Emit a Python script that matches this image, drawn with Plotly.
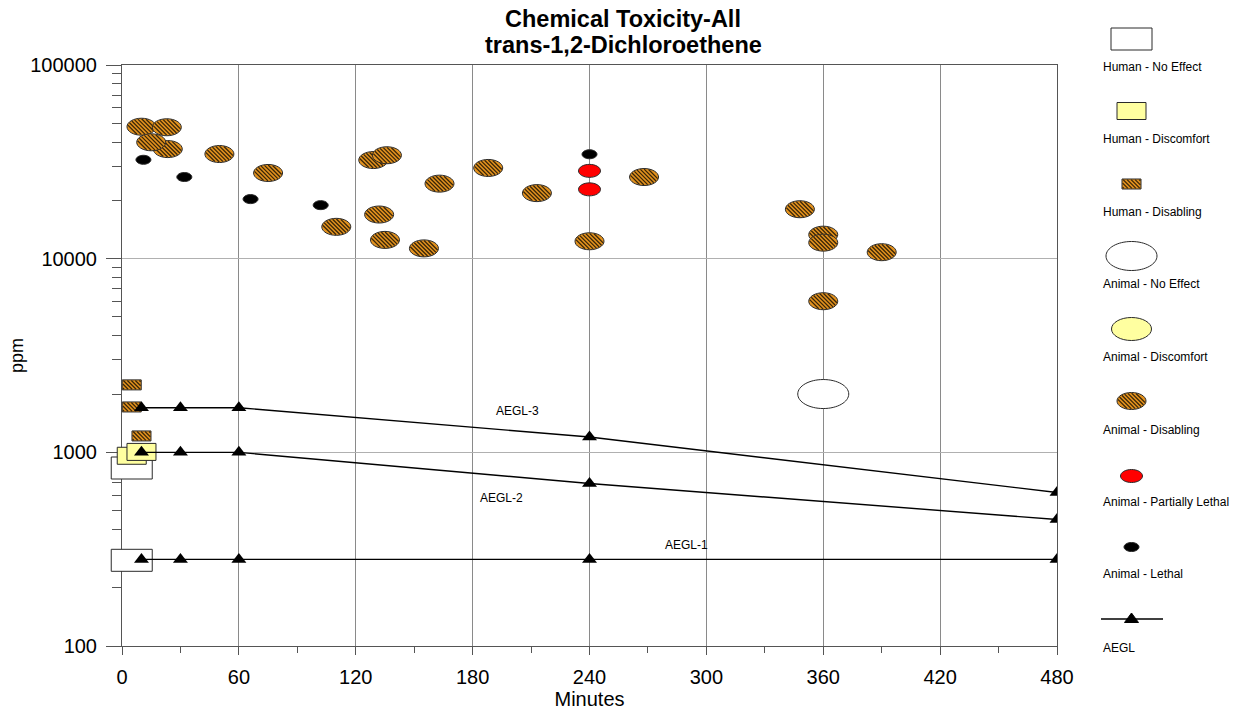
import numpy as np
import plotly.graph_objects as go

# ---------------- data ----------------
human_no_effect_x = [5, 5]
human_no_effect_y = [830, 277]
human_discomfort_x = [5, 10]
human_discomfort_y = [960, 1005]
human_disabling_x = [5, 5, 10]
human_disabling_y = [2230, 1715, 1215]
animal_no_effect_x = [360]
animal_no_effect_y = [2000]
animal_discomfort_x = []
animal_discomfort_y = []
animal_disabling_x = [10, 23, 23.5, 15, 50, 75, 110, 129, 136, 132, 135, 155, 163,
                      188, 213, 240, 268, 348, 360, 360, 390, 360]
animal_disabling_y = [48000, 47700, 36800, 39900, 34700, 27700, 14600, 32300, 34200,
                      16900, 12500, 11300, 24400, 29400, 21800, 12300, 26400, 18000,
                      13300, 12100, 10800, 6030]
animal_partial_x = [240, 240]
animal_partial_y = [28400, 22800]
animal_lethal_x = [11, 32, 66, 102, 240]
animal_lethal_y = [32400, 26400, 20300, 18900, 34600]

aegl_minutes = [10, 30, 60, 240, 480]
aegl_1 = [280, 280, 280, 280, 280]
aegl_2 = [1000, 1000, 1000, 690, 450]
aegl_3 = [1700, 1700, 1700, 1200, 620]
aegl_names = ["AEGL-1", "AEGL-2", "AEGL-3"]
aegl_label_x = [290, 195, 203]
aegl_label_y = [333, 583, 1640]

x_tick_vals = [0, 60, 120, 180, 240, 300, 360, 420, 480]
y_tick_vals = [100, 1000, 10000, 100000]
y_tick_text = ["100", "1000", "10000", "100000"]

legend_labels = ["Human - No Effect", "Human - Discomfort", "Human - Disabling",
                 "Animal - No Effect", "Animal - Discomfort", "Animal - Disabling",
                 "Animal - Partially Lethal", "Animal - Lethal", "AEGL"]

# ---------------- styles / layout constants ----------------
OFF = 0                      # page offset of the plotly div (body margin removed below)
W, H = 1240 - OFF, 715 - OFF
PAGE_AXIS_X = 122            # page pixel of the y axis (x = 0)
PAGE_RIGHT = 1057
PAGE_TOP = 65
PAGE_BOTTOM = 646
PAGE_EXT_LEFT = 90           # left edge of the unclipped data layer
ML = PAGE_EXT_LEFT - OFF
MR = W - (PAGE_RIGHT - OFF)
MT = PAGE_TOP - OFF
MB = H - (PAGE_BOTTOM - OFF)
PLOT_W = W - ML - MR
PLOT_H = H - MT - MB
X_MAX = 480
px_per_min = (PAGE_RIGHT - PAGE_AXIS_X) / X_MAX
x2_min = -(PAGE_AXIS_X - PAGE_EXT_LEFT) / px_per_min

FONT = "Liberation Sans, Arial, Helvetica, sans-serif"
HATCH_BASE = "#E3921E"
HATCH_LINE = "#3A2608"
OUTLINE = "#2a2a2a"

styles = {
    "Human - No Effect": ("rect", 41, 22, "#FFFFFF", False),
    "Human - Discomfort": ("rect", 29, 17, "#FFFFA0", False),
    "Human - Disabling": ("rect", 19, 10, HATCH_BASE, True),
    "Animal - No Effect": ("ellipse", 51, 29, "#FFFFFF", False),
    "Animal - Discomfort": ("ellipse", 40, 23, "#FFFFA0", False),
    "Animal - Disabling": ("ellipse", 29, 17, HATCH_BASE, True),
    "Animal - Partially Lethal": ("ellipse", 22, 13, "#FF0000", False),
    "Animal - Lethal": ("ellipse", 15, 9, "#000000", False),
}

series = [
    ("Human - No Effect", human_no_effect_x, human_no_effect_y),
    ("Human - Discomfort", human_discomfort_x, human_discomfort_y),
    ("Human - Disabling", human_disabling_x, human_disabling_y),
    ("Animal - No Effect", animal_no_effect_x, animal_no_effect_y),
    ("Animal - Discomfort", animal_discomfort_x, animal_discomfort_y),
    ("Animal - Disabling", animal_disabling_x, animal_disabling_y),
    ("Animal - Partially Lethal", animal_partial_x, animal_partial_y),
    ("Animal - Lethal", animal_lethal_x, animal_lethal_y),
]

K = 0.5522847


def ellipse_path(a, b):
    return (f"M{a:.2f},0C{a:.2f},{K*b:.2f} {K*a:.2f},{b:.2f} 0,{b:.2f}"
            f"C{-K*a:.2f},{b:.2f} {-a:.2f},{K*b:.2f} {-a:.2f},0"
            f"C{-a:.2f},{-K*b:.2f} {-K*a:.2f},{-b:.2f} 0,{-b:.2f}"
            f"C{K*a:.2f},{-b:.2f} {a:.2f},{-K*b:.2f} {a:.2f},0Z")


def rect_path(w, h):
    hw, hh = w / 2, h / 2
    return f"M{-hw:.2f},{-hh:.2f}L{hw:.2f},{-hh:.2f}L{hw:.2f},{hh:.2f}L{-hw:.2f},{hh:.2f}Z"


def hatch_ellipse(a, b, step=4.0):
    segs = []
    a2, b2 = a - 0.6, b - 0.6
    L = np.hypot(a2, b2)
    A = 1 / a2**2 + 1 / b2**2
    c = -np.floor(L / step) * step
    while c <= L:
        B = -2 * c / b2**2
        C = c**2 / b2**2 - 1
        disc = B * B - 4 * A * C
        if disc > 0:
            r = np.sqrt(disc)
            x1 = (-B - r) / (2 * A)
            x2 = (-B + r) / (2 * A)
            segs.append(f"M{x1:.2f},{c - x1:.2f}L{x2:.2f},{c - x2:.2f}")
        c += step
    return "".join(segs)


def hatch_rect(w, h, step=4.0):
    hw, hh = w / 2 - 0.6, h / 2 - 0.6
    segs = []
    c = -np.floor((hw + hh) / step) * step
    while c <= hw + hh:
        lo = max(-hw, c - hh)
        hi = min(hw, c + hh)
        if hi - lo > 0.3:
            segs.append(f"M{lo:.2f},{c - lo:.2f}L{hi:.2f},{c - hi:.2f}")
        c += step
    return "".join(segs)


def mark_shapes(style, x, y, xref, yref, layer):
    kind, w, h, fill, hatch = style
    outline = ellipse_path(w / 2, h / 2) if kind == "ellipse" else rect_path(w, h)
    common = dict(type="path", xref=xref, yref=yref, xsizemode="pixel", ysizemode="pixel",
                  xanchor=x, yanchor=y, layer=layer)
    out = [dict(path=outline, fillcolor=fill, line=dict(width=0), **common)]
    if hatch:
        p = hatch_ellipse(w / 2, h / 2) if kind == "ellipse" else hatch_rect(w, h)
        out.append(dict(path=p, line=dict(color=HATCH_LINE, width=1.3), **common))
    out.append(dict(path=outline, fillcolor="rgba(0,0,0,0)",
                    line=dict(color=OUTLINE, width=1), **common))
    return out


fig = go.Figure()
shapes = []

# invisible hover points on the visible axes (they also make the main axes draw)
for name, xs, ys in series:
    if xs:
        fig.add_trace(go.Scatter(x=xs, y=ys, mode="markers", name=name, xaxis="x", yaxis="y",
                                 marker=dict(size=14, opacity=0), showlegend=False,
                                 hovertemplate=name + "<br>%{x} min, %{y} ppm<extra></extra>"))

# data marks (drawn on the x2/y2 scale, identical to the visible axes but unclipped at x=0)
for name, xs, ys in series:
    for xv, yv in zip(xs, ys):
        shapes += mark_shapes(styles[name], xv, yv, "x2", "y2", "below")

for nm, vals in zip(aegl_names, [aegl_1, aegl_2, aegl_3]):
    fig.add_trace(go.Scatter(x=aegl_minutes, y=vals, mode="lines+markers", name=nm,
                             xaxis="x2", yaxis="y2", showlegend=False,
                             line=dict(color="#000000", width=1.4),
                             marker=dict(symbol="triangle-up", size=13, color="#000000")))

annotations = []
for nm, lx, ly in zip(aegl_names, aegl_label_x, aegl_label_y):
    annotations.append(dict(x=lx, y=np.log10(ly), xref="x2", yref="y2", text=nm,
                            showarrow=False, font=dict(size=12, color="#000000", family=FONT)))


def pxx(p):
    return (p - OFF - ML) / PLOT_W


def pxy(p):
    return (H - MB - (p - OFF)) / PLOT_H


# ---------------- title ----------------
for txt, ty in [("Chemical Toxicity-All", 18.5), ("trans-1,2-Dichloroethene", 45.5)]:
    annotations.append(dict(x=pxx(623), y=pxy(ty), xref="paper", yref="paper",
                            text="<b>" + txt + "</b>", showarrow=False,
                            xanchor="center", yanchor="middle",
                            font=dict(size=23.5, color="#000000", family=FONT)))

# ---------------- custom legend (icon above label) ----------------
legend_icon_y = [39, 111, 184, 256, 329, 401, 476, 547, 619]
legend_text_y = [67, 139, 212, 284, 357, 430, 502, 574, 648]
icon_x = 1131.5
text_x = 1101
for lab, iy, ty in zip(legend_labels, legend_icon_y, legend_text_y):
    if lab in styles:
        shapes += mark_shapes(styles[lab], pxx(icon_x), pxy(iy), "paper", "paper", "above")
    else:
        shapes.append(dict(type="line", xref="paper", yref="paper",
                           x0=pxx(1101), x1=pxx(1163), y0=pxy(iy), y1=pxy(iy),
                           line=dict(color="#000000", width=1.4)))
        shapes.append(dict(type="path", xref="paper", yref="paper", xsizemode="pixel",
                           ysizemode="pixel", xanchor=pxx(icon_x), yanchor=pxy(iy),
                           path="M-7,-3.5L7,-3.5L0,6Z", fillcolor="#000000",
                           line=dict(color="#000000", width=1)))
    annotations.append(dict(x=pxx(text_x), y=pxy(ty), xref="paper", yref="paper",
                            text=lab, showarrow=False, xanchor="left", yanchor="middle",
                            font=dict(size=12, color="#000000", family=FONT)))

minor_y = [m * 10**k for k in range(2, 5) for m in range(2, 10)]
AX_COL = "#555555"

fig.update_layout(
    width=W, height=H,
    margin=dict(l=ML, r=MR, t=MT, b=MB, pad=0, autoexpand=False),
    paper_bgcolor="#FFFFFF", plot_bgcolor="rgba(0,0,0,0)",
    font=dict(family=FONT, color="#000000", size=20),
    xaxis=dict(domain=[(PAGE_AXIS_X - PAGE_EXT_LEFT) / PLOT_W, 1], range=[0, X_MAX], anchor="y",
               visible=True, automargin=False,
               tickmode="array", tickvals=x_tick_vals, ticks="outside", ticklen=8,
               tickcolor=AX_COL, showline=True, linecolor=AX_COL, linewidth=1, mirror=True,
               showgrid=True, gridcolor="#8a8a8a", gridwidth=1, zeroline=False,
               minor=dict(tickmode="linear", tick0=0, dtick=30, ticks="outside", ticklen=6,
                          tickcolor=AX_COL, showgrid=False),
               ticklabelstandoff=5,
               tickfont=dict(size=20), title=dict(text="Minutes", font=dict(size=20), standoff=3)),
    yaxis=dict(type="log", range=[2, 5], anchor="x", visible=True, automargin=False,
               tickmode="array", tickvals=y_tick_vals, ticktext=y_tick_text,
               ticks="outside", ticklen=15, tickcolor=AX_COL,
               showline=True, linecolor=AX_COL, linewidth=1, mirror=True,
               showgrid=True, gridcolor="#b0b0b0", gridwidth=1, zeroline=False,
               minor=dict(tickmode="array", tickvals=minor_y, ticks="outside", ticklen=9,
                          tickcolor=AX_COL, showgrid=False),
               ticklabelstandoff=5,
               tickfont=dict(size=20), title=dict(text="ppm", font=dict(size=18), standoff=1)),
    xaxis2=dict(domain=[0, 1], range=[x2_min, X_MAX], anchor="y2", visible=False,
                automargin=False),
    yaxis2=dict(domain=[0, 1], type="log", range=[2, 5], anchor="x2", visible=False,
                automargin=False),
    shapes=shapes,
    annotations=annotations,
    showlegend=False,
)

fig.write_html("out.html", config={"displayModeBar": False},
               post_script="document.body.style.margin='0';document.body.style.padding='0';")
